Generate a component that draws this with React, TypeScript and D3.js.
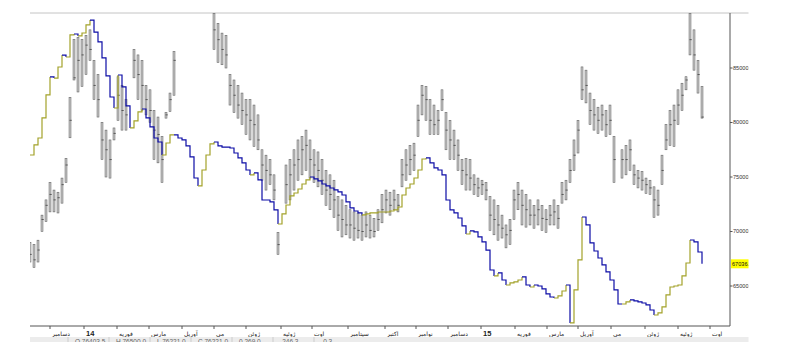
import * as d3 from 'd3'

// gray OHLC-style bars (thousands), null = no bar
const highs = [
  69.0, 68.8, 69.2, 71.5, 72.9, 74.5, 73.8, 73.6, 74.9, 76.7,
  82.3, 87.6, 87.8, 87.6, 88.0, 88.5, 85.7, 84.4, 80.0, 79.3,
  78.4, 79.5, 84.2, 83.4, 82.1, null, 86.7, 86.2, 85.7, 83.4,
  83.0, 81.1, 80.5, 78.7, 80.9, 82.7, 86.5, null, null, null,
  null, null, null, null, null, null, 90.0, 89.1, 88.2, 88.0,
  84.4, 83.9, 83.4, 82.7, 82.1, 82.1, 81.6, 80.7, 77.5, 77.0,
  76.6, 75.2, 69.9, null, 76.1, 76.6, 77.5, 78.4, 78.7, 79.3,
  78.4, 77.5, 77.3, 76.6, 75.6, 75.2, 74.7, 73.2, 72.9, 72.4,
  72.0, 71.8, 71.7, 71.5, 71.8, 71.5, 71.2, 72.0, 73.4, 73.8,
  73.6, 73.8, 73.4, 76.6, 77.5, 77.9, 78.1, 81.6, 83.4, 83.3,
  82.1, 81.6, 81.1, 83.0, 80.9, 80.2, 79.3, 78.4, 76.6, 76.7,
  76.6, 75.2, 74.9, 74.7, 74.5, 73.2, 72.9, 72.4, 71.5, 70.6,
  71.1, 73.8, 74.5, 73.8, 73.4, 72.9, 72.4, 72.9, 72.4, 72.0,
  72.4, 72.9, 72.4, 74.5, 74.7, 76.6, 78.4, 80.2, 85.1, 84.8,
  82.7, 82.1, 81.4, 81.6, 81.1, 81.6, 78.7, null, 77.5, 77.9,
  78.4, 76.1, 75.6, 75.5, 74.9, 74.7, 74.1, 73.8, 77.0, 79.8,
  81.1, 81.6, 83.0, 83.6, 84.2, 90.0, 88.5, 85.7, 83.3,
]
const lows = [
  67.2, 66.7, 67.2, 70.0, 70.9, 71.8, 71.8, 71.7, 72.6, 74.5,
  78.6, 83.9, 82.8, 83.3, 84.4, 85.7, 82.1, 80.5, 76.6, 75.0,
  74.9, 78.4, 80.2, 79.3, 79.3, null, 84.1, 82.1, 81.1, 80.7,
  80.0, 76.6, 76.3, 74.5, 80.4, 81.0, 82.5, null, null, null,
  null, null, null, null, null, null, 86.7, 85.5, 85.3, 85.0,
  81.6, 80.9, 80.4, 79.8, 78.9, 78.4, 77.8, 77.5, 74.7, 73.8,
  74.3, 72.9, 67.9, null, 72.6, 72.9, 73.8, 74.7, 75.2, 75.6,
  74.9, 74.5, 74.1, 73.4, 72.4, 72.0, 71.3, 70.1, 69.5, 69.7,
  69.4, 69.2, 69.4, 69.2, 69.5, 69.4, 69.5, 70.1, 70.8, 71.7,
  71.5, 72.0, 71.8, 74.1, 74.7, 75.2, 75.6, 78.7, 80.7, 80.2,
  78.9, 78.9, 78.9, 81.1, 77.5, 76.6, 76.6, 75.6, 74.3, 73.8,
  73.8, 73.4, 73.2, 73.4, 72.9, 70.1, 69.7, 69.2, 69.4, 68.5,
  68.8, 71.1, 72.0, 70.6, 70.4, 70.6, 70.3, 70.6, 70.1, 69.9,
  70.6, 70.6, 70.3, 72.6, 72.9, 74.5, 75.6, 77.2, 82.1, 81.8,
  79.8, 79.3, 79.0, 79.3, 78.7, 78.9, 74.5, null, 74.9, 75.2,
  75.6, 74.3, 74.0, 73.8, 73.5, 73.4, 71.3, 71.5, 74.3, 77.5,
  77.9, 77.8, 79.8, 81.1, 83.0, 86.2, 84.8, 82.7, 80.4,
]
const closes = [
  67.9, 67.4, 68.3, 71.1, 72.4, 73.4, 72.9, 73.1, 74.3, 76.1,
  80.2, 84.1, 85.7, 86.2, 87.1, 86.7, 83.4, 82.1, 78.4, 77.5,
  76.6, 79.0, 82.5, 81.1, 80.7, null, 85.7, 84.4, 83.4, 82.1,
  81.1, 79.3, 78.9, 76.6, 80.7, 82.1, 85.7, null, null, null,
  null, null, null, null, null, null, 88.5, 87.6, 86.7, 86.2,
  83.4, 82.5, 81.6, 81.1, 80.7, 80.2, 79.8, 78.4, 76.1, 75.6,
  75.2, 73.8, 68.8, null, 74.3, 75.2, 76.1, 76.6, 77.5, 77.9,
  76.6, 76.1, 75.6, 74.7, 73.8, 73.4, 72.9, 71.5, 71.1, 70.6,
  70.6, 70.3, 70.1, 70.0, 70.6, 70.1, 70.0, 71.1, 72.0, 72.9,
  72.4, 72.9, 72.4, 75.2, 76.1, 76.6, 77.0, 80.2, 82.5, 82.1,
  80.2, 79.8, 80.2, 82.1, 79.3, 78.4, 77.9, 77.0, 75.6, 75.2,
  74.9, 74.3, 74.0, 74.3, 73.8, 71.5, 71.1, 70.6, 70.3, 69.7,
  70.1, 72.9, 73.4, 72.4, 72.0, 71.5, 71.5, 72.0, 71.2, 71.1,
  71.5, 71.8, 71.2, 73.4, 73.8, 75.6, 77.0, 79.3, 83.0, 83.4,
  81.1, 80.7, 80.2, 80.7, 79.8, 80.2, 76.6, null, 76.6, 76.6,
  77.5, 75.2, 74.9, 74.7, 74.3, 74.0, 72.9, 72.4, 75.6, 78.4,
  79.8, 80.2, 81.6, 82.5, 83.9, 87.6, 86.2, 84.4, 80.5,
]

// step indicator line (thousands)
const stepValues = [
  77.02, 77.94, 78.58, 80.42, 82.53, 84.18, 84.08, 85.09, 86.19, 86.01,
  88.03, 88.12, 87.94, 88.21, 88.95, 89.40, 88.30, 87.39, 85.92, 84.27,
  82.34, 81.33, 84.36, 83.26, 81.52, 79.50, 80.14, 80.97, 81.24, 80.42,
  79.59, 78.58, 78.21, 77.02, 78.12, 78.86, 78.86, 78.58, 78.40, 77.85,
  76.84, 74.91, 74.18, 75.64, 77.02, 78.03, 78.21, 77.85, 77.75, 77.75,
  77.66, 77.20, 76.75, 76.29, 75.64, 75.19, 75.37, 74.73, 72.89, 72.89,
  72.71, 71.98, 70.69, 71.61, 72.43, 73.26, 73.53, 73.90, 74.36, 74.73,
  75.00, 74.82, 74.64, 74.36, 74.18, 73.99, 73.81, 73.63, 73.35, 72.71,
  72.16, 71.88, 71.70, 71.52, 71.61, 71.70, 71.70, 71.79, 71.79, 71.79,
  71.88, 71.98, 72.25, 73.35, 73.99, 74.36, 74.91, 75.64, 76.65, 76.75,
  76.29, 75.83, 75.64, 75.19, 72.89, 71.98, 71.70, 71.24, 70.51, 69.77,
  70.05, 69.96, 69.50, 69.04, 68.30, 66.47, 65.92, 66.20, 65.55, 65.09,
  65.28, 65.37, 65.55, 65.83, 65.09, 64.91, 65.09, 65.00, 64.73, 64.27,
  63.99, 63.90, 64.09, 64.54, 65.09, 61.61, 64.64, 67.39, 71.33, 70.60,
  68.95, 68.21, 67.57, 66.93, 66.29, 65.55, 64.64, 63.35, 63.35, 63.54,
  63.72, 63.63, 63.54, 63.44, 63.26, 62.80, 62.34, 62.53, 63.08, 64.18,
  64.91, 65.00, 65.09, 65.92, 67.11, 69.22, 69.04, 68.12, 67.0363,
]

// month boundaries, in bar-index units
const monthPos = [5, 13.5, 21.75, 29.75, 38, 46, 54, 62.75, 70.5, 79.5, 88.75, 96.5, 104.5, 112.75, 121.25, 129.25, 137, 145.25, 153.75, 162, 170]
const monthLabels = ['دسامبر', '14', 'فوریه', 'مارس', 'آوریل', 'می', 'ژوئن', 'ژوئیه', 'اوت', 'سپتامبر', 'اکتبر', 'نوامبر', 'دسامبر', '15', 'فوریه', 'مارس', 'آوریل', 'می', 'ژوئن', 'ژوئیه', 'اوت']

const statusCells = ['O 76403.5', 'H 76500.0', 'L 76221.0', 'C 76221.0', '0.269.0', '-246.3', '-0.3']

const BLUE = '#0c0ca6'
const OLIVE = '#a3a22a'
const FONT = "'Liberation Sans', 'DejaVu Sans', sans-serif"

export default function App() {
  const width = 792
  const height = 353
  const left = 30, right = 730, top = 13, bottom = 326, edge = 748.5

  const x = d3.scaleLinear().domain([0, stepValues.length - 1]).range([30, 702])
  const y = d3.scaleLinear().domain([65, 85]).range([286, 68])
  const fmt = d3.format('.1f')

  // group step segments into runs of the same colour
  const runs: { color: string; d: string }[] = []
  let prev = OLIVE
  for (let i = 1; i < stepValues.length; i++) {
    const a = stepValues[i - 1], b = stepValues[i]
    const c = b < a ? BLUE : b > a ? OLIVE : prev
    const seg = `H${x(i)}V${y(b)}`
    if (runs.length && runs[runs.length - 1].color === c) runs[runs.length - 1].d += seg
    else runs.push({ color: c, d: `M${x(i - 1)},${y(a)}` + seg })
    prev = c
  }

  const last = stepValues[stepValues.length - 1]
  const bw = 1.9

  return (
    <svg width={width} height={height} style={{ position: 'absolute', left: 0, top: 0, background: '#fff' }} fontFamily={FONT}>
      <defs>
        <clipPath id="plot"><rect x={left} y={top} width={right - left} height={bottom - top} /></clipPath>
        <clipPath id="edge"><rect x={0} y={0} width={edge} height={height} /></clipPath>
        <clipPath id="status"><rect x={left} y={336} width={edge - left} height={6} /></clipPath>
      </defs>

      <line x1={left} x2={edge} y1={top} y2={top} stroke="#c4c4c4" strokeWidth={1} />

      <g clipPath="url(#plot)">
        {highs.map((h, i) => {
          const l = lows[i], c = closes[i]
          if (h == null || l == null || c == null) return null
          const cx = x(i)
          return (
            <g key={i}>
              <rect x={cx - bw / 2} y={y(h)} width={bw} height={Math.max(1, y(l) - y(h))} fill="#cfcfcf" stroke="#666" strokeWidth={0.6} />
              <line x1={cx - 0.5} x2={cx + 1.8} y1={y(c)} y2={y(c)} stroke="#333" strokeWidth={0.7} />
            </g>
          )
        })}
        {runs.map((r, k) => (
          <path key={k} d={r.d} fill="none" stroke={r.color} strokeWidth={1.2} />
        ))}
      </g>

      {/* right axis */}
      <line x1={right} x2={right} y1={top} y2={bottom} stroke="#555" strokeWidth={1} />
      <g clipPath="url(#edge)">
        {y.ticks(4).map(t => (
          <g key={t}>
            <line x1={right} x2={right + 2.5} y1={y(t)} y2={y(t)} stroke="#555" />
            <text x={right + 3} y={y(t)} dy="0.35em" fontSize={5.6} fill="#333">{fmt(t * 1000)}</text>
          </g>
        ))}
        <rect x={right + 1} y={y(last) - 4.5} width={22} height={9} fill="#ffff00" />
        <text x={right + 2} y={y(last)} dy="0.35em" fontSize={5.6} fill="#111">{fmt(last * 1000)}</text>
      </g>

      {/* bottom axis */}
      <line x1={left} x2={right} y1={bottom} y2={bottom} stroke="#555" strokeWidth={1} />
      {monthPos.map((p, k) => {
        const lab = monthLabels[k]
        const isYear = /^\d+$/.test(lab)
        return (
          <g key={k}>
            <line x1={x(p)} x2={x(p)} y1={bottom} y2={bottom + 3} stroke="#555" />
            <text x={x(p) + 2} y={335.5} fontSize={isYear ? 7.5 : 6} fontWeight={isYear ? 'bold' : 'normal'} fill="#222">{lab}</text>
          </g>
        )
      })}

      {/* status row, cut off at the bottom of the capture */}
      <rect x={left} y={337} width={edge - left} height={5} fill="#ececec" />
      <g clipPath="url(#status)">
        {statusCells.map((s, k) => (
          <g key={k}>
            <line x1={68 + k * 41} x2={68 + k * 41} y1={337} y2={343} stroke="#bbb" strokeWidth={0.6} />
            <text x={75 + k * 41} y={344} fontSize={6.5} fill="#666">{s}</text>
          </g>
        ))}
      </g>
    </svg>
  )
}
